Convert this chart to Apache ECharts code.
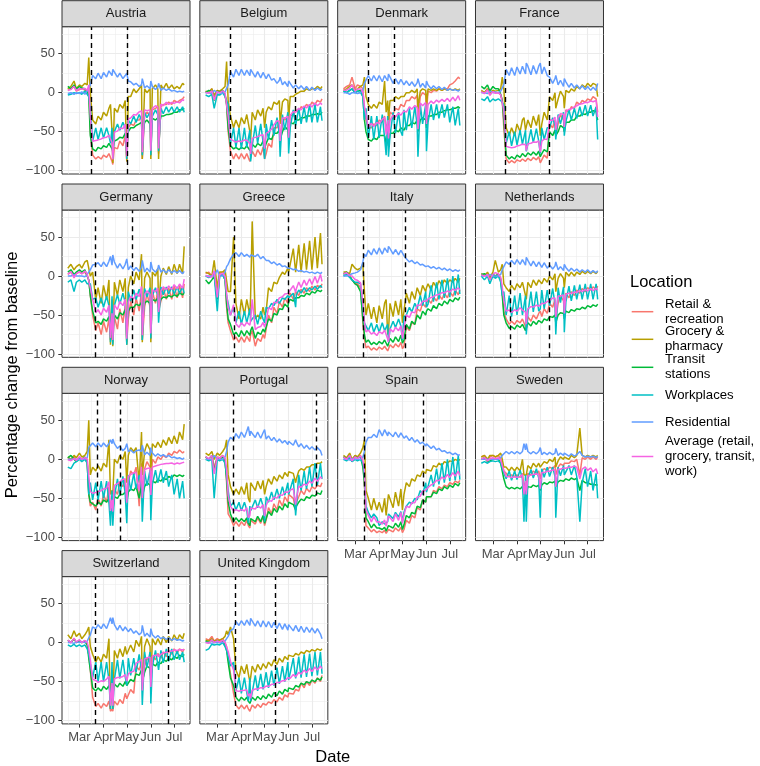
<!DOCTYPE html>
<html><head><meta charset="utf-8">
<script src="https://cdn.jsdelivr.net/npm/echarts@6/dist/echarts.min.js"></script>
<style>html,body{margin:0;padding:0;background:#fff}#c{width:760px;height:766px}</style>
</head><body><div id="c"></div>
<script>
const dates = ['2020-02-15','2020-02-19','2020-02-23','2020-02-26','2020-03-01','2020-03-04','2020-03-08','2020-03-11','2020-03-13','2020-03-15','2020-03-18','2020-03-22','2020-03-25','2020-03-29','2020-04-01','2020-04-05','2020-04-08','2020-04-10','2020-04-12','2020-04-13','2020-04-15','2020-04-19','2020-04-22','2020-04-26','2020-04-29','2020-05-01','2020-05-03','2020-05-06','2020-05-10','2020-05-13','2020-05-17','2020-05-20','2020-05-21','2020-05-24','2020-05-27','2020-05-31','2020-06-01','2020-06-03','2020-06-07','2020-06-10','2020-06-11','2020-06-14','2020-06-17','2020-06-21','2020-06-24','2020-06-28','2020-07-01','2020-07-05','2020-07-08','2020-07-12','2020-07-14'];
const countries = ['Austria','Belgium','Denmark','France','Germany','Greece','Italy','Netherlands','Norway','Portugal','Spain','Sweden','Switzerland','United Kingdom'];
const seriesNames = ['Retail & recreation','Grocery & pharmacy','Transit stations','Workplaces','Residential','Average (retail, grocery, transit, work)'];
const legendLabels = ['Retail &\nrecreation','Grocery &\npharmacy','Transit\nstations','Workplaces','Residential','Average (retail,\ngrocery, transit,\nwork)'];
const colors = ['#F8766D','#B79F00','#00BA38','#00BFC4','#619CFF','#F564E3'];
const lockdownStart = ['2020-03-16','2020-03-18','2020-03-18','2020-03-17','2020-03-22','2020-03-23','2020-03-11','2020-03-23','2020-03-24','2020-03-22','2020-03-13',null,'2020-03-21','2020-03-24'];
const lockdownEnd   = ['2020-05-02','2020-06-09','2020-04-20','2020-05-12','2020-05-08','2020-06-01','2020-05-05','2020-05-12','2020-04-22','2020-07-07','2020-05-28',null,'2020-06-24','2020-05-15'];
const yTicks = [-100,-50,0,50];
const yMinor = [-75,-25,25,75];
const xMonths = ['2020-03-01','2020-04-01','2020-05-01','2020-06-01','2020-07-01'];

const austriaRetail = [3,5,8,2,4,6,3,2,5,-50,-80,-85,-82,-85,-80,-83,-78,-80,-88,-92,-70,-72,-62,-68,-55,-88,-45,-40,-42,-35,-35,-30,-85,-30,-25,-28,-80,-22,-20,-18,-78,-18,-15,-15,-12,-15,-10,-12,-10,-8,-5];
const austriaGrocery = [5,8,15,5,10,8,12,10,45,0,-35,-40,-30,-35,-25,-30,-20,-15,-50,-90,-20,-25,-15,-20,-10,-88,-5,-5,5,0,5,10,-85,5,0,5,-85,5,10,5,-85,10,5,12,5,10,5,8,5,12,10];
const austriaTransit = [8,5,10,5,8,6,5,2,-5,-55,-72,-75,-70,-72,-68,-70,-65,-67,-72,-75,-62,-60,-57,-58,-52,-65,-50,-45,-45,-42,-40,-38,-55,-38,-35,-40,-52,-33,-35,-32,-48,-30,-30,-28,-28,-27,-25,-25,-22,-22,-20];
const austriaWork = [-3,-2,0,-1,0,-2,2,-2,-5,-20,-62,-45,-60,-45,-58,-45,-55,-65,-45,-85,-50,-40,-48,-38,-45,-85,-35,-40,-30,-38,-28,-35,-80,-25,-32,-25,-80,-30,-22,-28,-75,-20,-27,-18,-25,-18,-25,-18,-25,-18,-25];
const austriaResid = [-1,0,-2,0,-1,1,-2,2,3,10,22,18,25,18,26,20,28,27,22,30,28,20,25,18,22,25,15,14,10,12,8,10,18,6,9,5,15,8,4,7,12,3,6,3,5,2,3,1,2,1,2];

const belgiumRetail = [2,0,5,-5,3,0,2,-3,-15,-50,-75,-85,-78,-85,-78,-85,-78,-80,-88,-90,-75,-82,-73,-80,-70,-85,-78,-65,-70,-45,-45,-38,-65,-40,-32,-38,-60,-28,-30,-22,-22,-25,-18,-20,-15,-18,-12,-15,-10,-12,-8];
const belgiumGrocery = [2,0,5,-3,3,2,5,8,40,-10,-30,-45,-35,-45,-32,-40,-28,-30,-50,-60,-25,-35,-22,-30,-20,-45,-25,-18,-22,-12,-15,-10,-40,-12,-8,-10,-35,-5,-5,-2,-2,0,2,2,5,3,5,5,8,5,8];
const belgiumTransit = [0,3,2,-10,2,0,3,-2,-15,-45,-68,-72,-70,-73,-70,-72,-68,-70,-74,-76,-66,-70,-65,-68,-62,-72,-65,-58,-60,-52,-52,-48,-60,-50,-43,-48,-58,-38,-40,-35,-35,-35,-32,-32,-30,-30,-28,-28,-27,-28,-25];
const belgiumWork = [-3,-5,-2,-20,-2,-3,0,-5,-10,-15,-65,-45,-70,-45,-72,-45,-70,-72,-48,-88,-68,-42,-65,-40,-63,-85,-40,-60,-35,-55,-32,-52,-82,-28,-48,-25,-78,-45,-22,-42,-42,-20,-40,-18,-38,-15,-38,-15,-38,-18,-36];
const belgiumResid = [0,0,-1,3,0,0,-1,1,2,10,27,20,30,22,30,22,29,29,22,30,28,20,27,19,26,27,18,24,16,18,12,16,20,10,14,8,15,12,6,10,10,5,9,4,8,3,7,3,6,3,5];

const denmarkRetail = [5,8,10,20,5,10,8,5,-20,-35,-45,-45,-40,-42,-35,-38,-30,-45,-40,-50,-25,-28,-20,-22,-15,-15,-18,-10,-10,-5,-8,-3,-35,-5,0,-3,-25,2,0,3,3,2,5,3,5,5,10,12,15,20,18];
const denmarkGrocery = [3,5,8,10,3,5,8,10,20,-5,-15,-20,-15,-20,-12,-15,15,-25,-10,-35,-10,-10,-5,-8,-5,-3,-5,0,0,3,0,5,-20,2,5,3,-15,5,3,5,5,3,5,3,5,3,5,3,5,3,5];
const denmarkTransit = [2,0,3,5,0,2,3,-5,-35,-50,-60,-62,-58,-60,-55,-55,-55,-65,-62,-68,-52,-52,-48,-50,-45,-47,-48,-42,-42,-38,-40,-35,-50,-35,-32,-35,-45,-30,-30,-28,-27,-28,-25,-25,-23,-22,-22,-20,-20,-18,-20];
const denmarkWork = [2,0,3,5,0,2,0,-5,-35,-20,-58,-30,-60,-30,-58,-28,-58,-80,-30,-82,-55,-25,-52,-25,-50,-55,-22,-48,-20,-45,-18,-42,-82,-15,-40,-15,-75,-38,-15,-35,-35,-15,-33,-15,-32,-15,-38,-18,-42,-20,-42];
const denmarkResid = [0,0,-2,0,0,-1,0,3,12,12,22,15,22,15,22,14,22,24,15,24,20,12,18,11,17,16,10,15,9,14,8,13,18,7,12,6,15,10,5,9,9,5,8,4,7,3,5,3,4,2,4];

const franceRetail = [2,0,5,-3,3,0,0,-3,-10,-45,-85,-90,-87,-90,-86,-88,-85,-84,-88,-90,-84,-87,-83,-86,-82,-90,-86,-80,-84,-40,-45,-35,-55,-40,-28,-35,-50,-22,-25,-18,-18,-20,-12,-15,-10,-12,-8,-10,-5,-8,-25];
const franceGrocery = [3,0,5,0,3,2,3,5,20,5,-45,-55,-45,-55,-40,-50,-35,-32,-48,-50,-35,-45,-30,-42,-28,-55,-40,-25,-35,-5,-10,0,-20,-8,2,-5,-20,3,0,5,5,2,8,5,10,7,12,8,12,10,-5];
const franceTransit = [8,5,10,2,8,5,5,-2,-10,-35,-80,-85,-82,-85,-80,-83,-78,-78,-82,-82,-77,-80,-76,-80,-75,-82,-78,-73,-76,-50,-55,-48,-55,-50,-42,-45,-50,-38,-38,-35,-34,-35,-30,-30,-27,-28,-25,-25,-23,-24,-35];
const franceWork = [-8,-10,-5,-12,-8,-10,-8,-10,-12,-15,-65,-50,-68,-50,-67,-48,-66,-65,-48,-75,-66,-47,-64,-46,-62,-78,-45,-60,-45,-45,-32,-42,-60,-28,-40,-25,-55,-37,-22,-35,-35,-20,-33,-18,-30,-16,-30,-16,-30,-18,-60];
const franceResid = [0,0,-1,2,0,1,0,2,3,10,30,22,32,22,33,24,34,33,24,38,34,23,35,24,34,38,24,33,22,20,12,18,22,10,16,8,18,14,7,12,12,6,10,5,9,4,8,3,7,3,12];

const germanyRetail = [2,5,0,3,5,3,5,0,-5,-25,-50,-70,-60,-75,-58,-72,-55,-82,-75,-85,-52,-68,-42,-60,-38,-85,-55,-32,-50,-28,-45,-20,-82,-40,-22,-40,-80,-20,-35,-18,-45,-32,-15,-30,-15,-30,-12,-28,-12,-28,-10];
const germanyGrocery = [10,15,8,12,15,10,18,20,22,0,5,-30,-15,-35,-12,-30,-5,-88,-30,-90,-8,-25,-5,-20,-3,-88,-15,0,-10,5,-5,28,-85,-3,5,-3,-85,5,0,10,-40,0,10,2,12,2,15,3,15,3,38];
const germanyTransit = [5,8,2,5,8,5,8,0,-5,-25,-45,-60,-58,-62,-55,-58,-52,-62,-60,-65,-50,-55,-47,-50,-43,-60,-45,-40,-40,-36,-38,-34,-55,-35,-32,-35,-50,-30,-32,-28,-40,-30,-27,-28,-25,-27,-24,-26,-22,-24,-22];
const germanyWork = [-8,-5,-20,-8,-5,-8,-5,-10,-10,-10,-30,-28,-40,-28,-40,-26,-38,-85,-26,-88,-38,-24,-36,-22,-34,-88,-20,-32,-18,-30,-17,-28,-82,-16,-27,-15,-80,-25,-15,-25,-60,-14,-24,-14,-23,-14,-23,-14,-22,-14,-22];
const germanyResid = [0,0,2,0,0,0,-1,2,3,8,14,15,17,12,18,12,19,25,14,27,18,10,16,9,15,22,8,13,7,11,6,11,20,5,10,5,18,9,5,9,14,5,8,4,8,4,7,4,7,3,6];

const greeceRetail = [3,5,0,5,-20,3,5,0,-40,-60,-70,-82,-78,-85,-78,-85,-77,-76,-84,-75,-70,-90,-80,-84,-75,-80,-78,-50,-60,-40,-48,-33,-32,-40,-28,-35,-25,-22,-30,-20,-18,-25,-17,-22,-15,-20,-13,-18,-12,-15,-10];
const greeceGrocery = [5,3,0,20,-15,5,5,8,10,-20,-20,50,-35,-55,-30,-50,-30,-28,-50,-25,70,-55,-50,-55,-40,-50,-45,-15,-20,-8,-10,-2,0,5,2,10,5,5,35,5,5,40,5,42,8,45,8,50,10,55,15];
const greeceTransit = [-5,-10,-5,0,-30,0,2,-5,-35,-55,-62,-75,-72,-78,-70,-77,-70,-70,-76,-70,-65,-80,-72,-75,-68,-72,-70,-55,-58,-48,-50,-42,-40,-43,-36,-40,-33,-30,-32,-28,-27,-28,-25,-26,-22,-24,-20,-22,-18,-20,-18];
const greeceWork = [0,-2,0,2,-45,0,2,-5,-25,-25,-50,-40,-60,-45,-62,-45,-60,-60,-42,-58,-55,-50,-62,-45,-55,-60,-40,-42,-35,-38,-30,-35,-34,-28,-30,-25,-28,-26,-22,-40,-24,-18,-22,-15,-20,-15,-18,-13,-17,-12,-15];
const greeceResid = [0,0,0,0,8,0,0,5,12,15,22,28,30,25,30,25,28,28,24,27,25,25,28,22,25,26,20,20,16,18,14,16,16,12,13,10,11,10,8,9,8,6,7,5,6,4,5,3,5,3,5];

const italyRetail = [3,5,0,-5,-10,-10,-15,-60,-80,-92,-90,-95,-92,-95,-91,-94,-90,-90,-96,-95,-88,-92,-87,-91,-85,-93,-90,-65,-70,-60,-62,-42,-40,-45,-35,-40,-35,-30,-35,-27,-26,-32,-24,-30,-22,-28,-20,-26,-18,-24,-18];
const italyGrocery = [5,5,3,15,10,8,10,15,-20,-50,-35,-55,-40,-60,-38,-55,-35,-30,-75,-70,-35,-52,-32,-50,-30,-60,-45,-22,-35,-20,-30,-15,-14,-25,-12,-20,-15,-10,-18,-8,-8,-15,-6,-12,-5,-10,-5,-8,-3,-8,-3];
const italyTransit = [2,5,0,-5,-10,-12,-20,-55,-75,-85,-82,-88,-85,-88,-84,-87,-82,-82,-90,-88,-80,-85,-78,-84,-76,-86,-82,-62,-68,-58,-62,-50,-49,-55,-45,-50,-45,-42,-45,-38,-37,-42,-35,-38,-32,-36,-30,-33,-28,-31,-27];
const italyWork = [0,2,-2,-5,-8,-8,-10,-40,-60,-60,-70,-60,-72,-62,-72,-60,-70,-70,-62,-85,-68,-58,-66,-55,-64,-82,-52,-50,-40,-46,-35,-42,-42,-25,-38,-20,-40,-36,-12,-33,-32,-8,-30,-5,-28,-3,-27,0,-25,2,-23];
const italyResid = [0,0,1,3,4,5,8,18,28,25,33,27,35,28,36,28,36,35,30,38,35,28,34,27,33,35,26,22,18,20,16,18,17,14,15,12,14,13,10,12,11,9,11,8,10,7,9,6,8,6,8];

const netherlandsRetail = [2,0,3,-3,2,0,3,-3,-20,-45,-55,-62,-58,-62,-57,-60,-55,-55,-65,-70,-52,-58,-50,-55,-48,-45,-52,-42,-48,-35,-40,-30,-55,-35,-25,-32,-50,-22,-28,-20,-19,-25,-18,-22,-16,-20,-15,-18,-14,-17,-13];
const netherlandsGrocery = [3,0,5,-2,5,20,5,8,15,-10,-15,-20,-12,-18,-10,-15,-8,-8,-25,-30,-8,-15,-5,-12,-5,-3,-10,-3,-8,0,-5,3,-20,-3,3,-3,-15,5,0,5,5,0,5,2,6,3,6,3,6,3,6];
const netherlandsTransit = [2,3,0,-5,2,0,2,-5,-25,-50,-60,-67,-65,-68,-63,-66,-62,-62,-70,-72,-60,-64,-58,-62,-57,-55,-60,-55,-57,-52,-53,-50,-60,-50,-47,-48,-55,-45,-47,-43,-42,-45,-42,-43,-40,-42,-38,-40,-37,-39,-36];
const netherlandsWork = [0,-5,0,-10,0,-3,0,-8,-25,-20,-50,-25,-52,-25,-50,-22,-50,-52,-25,-75,-48,-20,-46,-20,-45,-42,-18,-42,-18,-38,-16,-36,-75,-15,-34,-14,-72,-33,-13,-32,-31,-12,-30,-11,-30,-10,-30,-10,-30,-10,-30];
const netherlandsResid = [0,0,0,2,0,0,0,2,8,12,18,15,20,15,21,15,21,20,14,24,20,13,19,12,18,17,11,17,10,14,9,13,18,8,12,7,15,11,6,10,10,6,9,5,8,5,8,4,7,4,7];

const norwayRetail = [2,0,3,-2,3,0,2,0,-45,-60,-55,-65,-50,-60,-45,-55,-35,-70,-65,-72,-38,-45,-30,-35,-25,-55,-30,-15,-20,-10,-60,-5,-50,-12,-3,-10,-45,0,-5,3,3,0,5,2,8,5,10,8,12,8,10];
const norwayGrocery = [3,0,5,2,8,3,5,10,50,-20,-10,-15,-8,-15,-5,-10,25,-45,-40,-45,0,-5,5,0,10,-30,5,15,10,15,-30,35,-20,10,20,12,-15,20,15,22,22,15,25,18,28,20,30,20,35,25,45];
const norwayTransit = [2,5,0,-3,2,0,3,-5,-45,-55,-57,-60,-55,-58,-52,-55,-50,-65,-62,-66,-48,-50,-45,-45,-42,-55,-42,-38,-40,-35,-50,-32,-48,-35,-30,-33,-45,-28,-30,-26,-26,-28,-24,-26,-22,-24,-20,-22,-20,-22,-20];
const norwayWork = [-10,-12,-5,-3,0,-3,0,-5,-45,-30,-52,-30,-52,-28,-50,-28,-55,-85,-40,-85,-48,-25,-46,-22,-44,-82,-20,-40,-18,-38,-20,-36,-80,-15,-34,-14,-78,-32,-14,-30,-30,-13,-30,-15,-35,-20,-45,-25,-50,-28,-50];
const norwayResid = [0,0,0,0,0,0,0,2,15,15,21,16,21,16,21,16,20,25,20,26,20,14,17,11,14,20,10,12,8,11,12,10,18,6,9,5,15,8,4,7,7,4,6,3,5,2,3,1,2,0,2];

const portugalRetail = [3,0,5,-10,3,2,5,0,-30,-70,-75,-85,-80,-86,-80,-85,-78,-85,-88,-78,-77,-83,-75,-82,-73,-85,-78,-62,-70,-57,-65,-52,-51,-60,-48,-55,-45,-44,-50,-65,-55,-48,-40,-45,-37,-42,-35,-38,-33,-35,-30];
const portugalGrocery = [8,5,10,0,8,5,10,15,25,-20,-35,-45,-38,-45,-35,-45,-30,-50,-55,-30,-30,-40,-28,-38,-27,-45,-35,-25,-32,-22,-28,-20,-20,-25,-17,-22,-16,-15,-18,-30,-25,-15,-12,-14,-10,-10,-7,-7,-5,-5,-3];
const portugalTransit = [3,0,5,-15,2,0,3,-3,-25,-55,-70,-80,-75,-80,-76,-80,-75,-82,-85,-76,-75,-80,-73,-80,-72,-82,-76,-67,-72,-63,-68,-60,-60,-65,-57,-62,-55,-55,-58,-65,-60,-55,-51,-53,-48,-50,-46,-47,-43,-45,-40];
const portugalWork = [0,-2,0,-50,0,-2,0,-5,-20,-40,-60,-55,-65,-55,-66,-55,-65,-82,-60,-66,-64,-52,-62,-50,-60,-80,-48,-55,-42,-52,-38,-50,-49,-35,-46,-30,-45,-44,-25,-72,-60,-20,-40,-15,-38,-10,-35,-5,-33,-5,-25];
const portugalResid = [0,0,-1,5,0,0,0,3,10,22,28,25,33,27,35,28,36,42,30,36,36,28,35,27,34,38,26,30,24,28,22,26,26,21,24,19,23,23,18,25,22,16,20,14,18,13,16,12,15,11,5];

const spainRetail = [3,0,5,-3,5,2,5,-5,-30,-85,-88,-93,-90,-94,-92,-94,-91,-95,-95,-90,-89,-93,-88,-92,-87,-94,-90,-78,-82,-72,-75,-62,-61,-65,-52,-55,-48,-46,-48,-40,-39,-42,-35,-38,-33,-35,-30,-32,-28,-30,-27];
const spainGrocery = [5,2,8,0,5,3,8,15,25,-40,-50,-65,-50,-65,-55,-68,-50,-72,-70,-45,-45,-62,-42,-60,-38,-65,-45,-30,-35,-25,-28,-20,-20,-22,-15,-18,-13,-12,-15,-8,-8,-10,-5,-8,-3,-5,-2,-3,0,-2,0];
const spainTransit = [3,0,5,-3,3,2,3,-10,-30,-75,-80,-88,-83,-88,-88,-90,-87,-92,-91,-85,-84,-88,-82,-87,-80,-90,-84,-72,-75,-68,-70,-60,-60,-62,-52,-55,-48,-46,-48,-42,-41,-44,-38,-40,-35,-38,-33,-36,-31,-34,-30];
const spainWork = [0,-2,2,-3,0,-2,0,-5,-20,-60,-68,-75,-70,-75,-85,-80,-83,-85,-80,-70,-70,-76,-68,-74,-67,-80,-68,-60,-55,-57,-50,-52,-51,-40,-45,-30,-42,-40,-20,-35,-35,-12,-32,-5,-30,0,-28,3,-27,5,-26];
const spainResid = [0,0,-1,1,0,0,0,3,10,22,28,28,32,28,38,30,38,36,30,35,36,29,35,28,34,34,27,30,24,28,22,25,25,20,22,17,20,19,14,17,16,12,14,10,11,8,9,6,8,5,6];

const swedenRetail = [3,5,0,3,5,3,5,0,-5,-15,-18,-22,-20,-22,-20,-23,-18,-35,-30,-35,-18,-20,-15,-18,-15,-25,-15,-12,-14,-10,-12,-8,-20,-10,-6,-8,-5,-4,-5,-2,-2,-3,0,-20,2,0,3,0,3,0,3];
const swedenGrocery = [3,5,0,5,5,3,5,8,0,-10,-10,-15,-10,-15,-10,-15,0,-20,-20,-20,-8,-12,-5,-10,-5,-10,-8,-3,-5,0,-3,3,-10,-2,3,0,3,3,0,5,5,2,5,40,5,3,5,3,5,3,5];
const swedenTransit = [0,2,-3,-2,0,0,0,-5,-15,-25,-35,-38,-36,-38,-36,-38,-35,-45,-40,-45,-35,-36,-33,-35,-33,-40,-33,-30,-32,-29,-30,-28,-35,-29,-27,-28,-26,-25,-27,-24,-24,-26,-24,-40,-27,-30,-30,-32,-32,-33,-33];
const swedenWork = [-5,-3,-5,-3,-2,-3,-2,-5,-12,-10,-25,-15,-27,-15,-26,-14,-25,-80,-20,-80,-25,-13,-24,-12,-24,-75,-12,-23,-10,-22,-10,-22,-75,-10,-21,-8,-20,-20,-8,-20,-20,-8,-22,-80,-30,-12,-35,-15,-40,-18,-50];
const swedenResid = [0,0,0,0,0,0,0,2,5,6,10,7,10,7,10,7,10,20,12,20,10,7,10,7,10,15,6,9,6,9,6,8,14,5,8,5,8,7,4,7,7,4,6,10,5,3,4,3,4,2,4];

const switzerlandRetail = [3,0,5,0,3,0,2,-3,-15,-35,-70,-82,-78,-84,-78,-82,-75,-88,-85,-88,-75,-80,-73,-78,-65,-72,-72,-60,-65,-30,-35,-25,-55,-30,-20,-25,-50,-17,-22,-14,-15,-20,-12,-18,-10,-15,-8,-13,-8,-12,-8];
const switzerlandGrocery = [10,5,15,8,12,5,10,15,20,-5,-15,-25,-18,-25,-15,-20,5,-85,-35,-85,-10,-20,-8,-18,-5,-15,-15,-3,-12,3,-5,8,-60,-5,5,-5,-55,5,-3,5,3,-3,8,0,8,2,10,3,10,5,12];
const switzerlandTransit = [3,0,5,0,3,0,2,-3,-20,-35,-58,-62,-58,-62,-56,-60,-55,-66,-62,-66,-53,-57,-52,-56,-50,-55,-53,-47,-50,-40,-42,-35,-50,-38,-30,-33,-45,-27,-30,-25,-26,-27,-22,-24,-20,-22,-18,-20,-16,-18,-15];
const switzerlandWork = [-3,-5,-2,-5,-3,-5,-3,-8,-15,-15,-45,-25,-50,-25,-50,-25,-48,-85,-25,-85,-47,-22,-46,-22,-44,-55,-20,-42,-20,-38,-15,-35,-80,-12,-32,-12,-78,-30,-10,-28,-35,-10,-26,-8,-24,-8,-22,-10,-22,-12,-25];
const switzerlandResid = [0,0,-1,1,0,1,0,2,6,10,20,18,23,18,24,18,26,32,24,32,23,16,22,15,20,22,14,18,12,15,10,13,22,8,12,7,18,10,6,9,10,5,7,4,6,3,5,3,4,2,3];

const ukRetail = [5,3,8,2,5,3,5,0,-5,-20,-40,-65,-80,-85,-80,-85,-80,-85,-88,-88,-80,-84,-79,-83,-78,-79,-80,-76,-78,-73,-76,-70,-70,-74,-67,-70,-65,-64,-66,-60,-59,-62,-52,-58,-50,-55,-48,-52,-45,-50,-42];
const ukGrocery = [3,2,5,2,3,3,5,8,15,10,20,5,-35,-45,-30,-40,-28,-40,-50,-45,-30,-38,-28,-35,-27,-28,-33,-25,-30,-22,-28,-20,-20,-25,-18,-22,-16,-15,-18,-14,-14,-16,-12,-14,-10,-12,-9,-11,-8,-10,-8];
const ukTransit = [2,0,3,0,2,0,2,-3,-10,-25,-45,-55,-70,-75,-70,-74,-70,-75,-78,-78,-70,-74,-69,-73,-68,-69,-72,-66,-70,-64,-68,-62,-62,-66,-60,-63,-58,-57,-60,-55,-55,-57,-52,-54,-50,-52,-48,-50,-46,-48,-44];
const ukWork = [-10,-8,-2,-3,-2,-3,0,-5,-10,-10,-30,-25,-62,-45,-65,-45,-64,-75,-45,-75,-64,-42,-62,-40,-60,-60,-38,-58,-36,-55,-32,-53,-52,-30,-50,-25,-48,-47,-20,-46,-46,-18,-45,-15,-44,-14,-43,-12,-42,-12,-40];
const ukResid = [0,0,-1,0,0,0,0,2,5,8,15,18,27,22,28,22,29,30,22,31,29,21,28,20,28,28,20,27,19,26,18,25,25,17,24,16,23,23,15,22,22,14,21,13,20,13,19,12,18,11,5];

const panelData = [
  [austriaRetail, austriaGrocery, austriaTransit, austriaWork, austriaResid],
  [belgiumRetail, belgiumGrocery, belgiumTransit, belgiumWork, belgiumResid],
  [denmarkRetail, denmarkGrocery, denmarkTransit, denmarkWork, denmarkResid],
  [franceRetail, franceGrocery, franceTransit, franceWork, franceResid],
  [germanyRetail, germanyGrocery, germanyTransit, germanyWork, germanyResid],
  [greeceRetail, greeceGrocery, greeceTransit, greeceWork, greeceResid],
  [italyRetail, italyGrocery, italyTransit, italyWork, italyResid],
  [netherlandsRetail, netherlandsGrocery, netherlandsTransit, netherlandsWork, netherlandsResid],
  [norwayRetail, norwayGrocery, norwayTransit, norwayWork, norwayResid],
  [portugalRetail, portugalGrocery, portugalTransit, portugalWork, portugalResid],
  [spainRetail, spainGrocery, spainTransit, spainWork, spainResid],
  [swedenRetail, swedenGrocery, swedenTransit, swedenWork, swedenResid],
  [switzerlandRetail, switzerlandGrocery, switzerlandTransit, switzerlandWork, switzerlandResid],
  [ukRetail, ukGrocery, ukTransit, ukWork, ukResid]
];

function ts(s){ const p = s.split('-').map(Number); return Date.UTC(p[0], p[1]-1, p[2]); }
const X_MIN = Date.UTC(2020,1,7,12);
const X_MAX = Date.UTC(2020,6,21,12);
const majorX = xMonths.map(ts);
const minorX = [Date.UTC(2020,1,15), Date.UTC(2020,2,16,12), Date.UTC(2020,3,16), Date.UTC(2020,4,16,12), Date.UTC(2020,5,16), Date.UTC(2020,6,16,12)];
const MON = ['Jan','Feb','Mar','Apr','May','Jun','Jul','Aug','Sep','Oct','Nov','Dec'];
const FONT = "'Liberation Sans', Arial, Helvetica, sans-serif";
const times = dates.map(ts);

const grids = [], xAxes = [], yAxes = [], series = [], graphics = [];
const PW = 128, PH = 147.3, STRIP = 26;
countries.forEach((name, i) => {
  const col = i % 4, row = Math.floor(i / 4);
  const left = 62 + col * 137.83, top = 26.7 + row * 183.3;
  const showX = row === 3 || (row === 2 && col >= 2);
  const showY = col === 0;
  grids.push({left, top, width: PW, height: PH, show: true, backgroundColor: '#fff', borderColor: '#333333', borderWidth: 1, containLabel: false, outerBoundsMode: 'none'});
  xAxes.push({gridIndex: i, type: 'value', min: X_MIN, max: X_MAX, position: 'bottom', scale: true,
    axisLine: {show: false, onZero: false},
    axisTick: {show: showX, length: 3.7, lineStyle: {color: '#333333', width: 1}, customValues: majorX},
    axisLabel: {show: showX, customValues: majorX, margin: 7, color: '#4D4D4D', fontSize: 13, fontFamily: FONT, formatter: v => MON[new Date(v).getUTCMonth()], hideOverlap: false, showMinLabel: true, showMaxLabel: true},
    splitLine: {show: true, lineStyle: {color: '#EBEBEB', width: 1.1}}
  });
  xAxes.push({gridIndex: i, type: 'value', min: X_MIN, max: X_MAX, position: 'top', scale: true,
    axisLine: {show: false, onZero: false}, axisTick: {show: false, customValues: minorX}, axisLabel: {show: false, customValues: minorX},
    splitLine: {show: true, lineStyle: {color: '#EBEBEB', width: 0.55}}
  });
  yAxes.push({gridIndex: i, type: 'value', min: -104.2, max: 84.6, position: 'left',
    axisLine: {show: false, onZero: false},
    axisTick: {show: showY, length: 3.7, lineStyle: {color: '#333333', width: 1}, customValues: yTicks},
    axisLabel: {show: showY, customValues: yTicks, margin: 7, color: '#4D4D4D', fontSize: 13, fontFamily: FONT, formatter: v => String(v).replace('-', '\u2212')},
    splitLine: {show: true, lineStyle: {color: '#EBEBEB', width: 1.1}}
  });
  yAxes.push({gridIndex: i, type: 'value', min: -104.2, max: 84.6, position: 'right',
    axisLine: {show: false, onZero: false}, axisTick: {show: false, customValues: yMinor}, axisLabel: {show: false, customValues: yMinor},
    splitLine: {show: true, lineStyle: {color: '#EBEBEB', width: 0.55}}
  });
  const d = panelData[i];
  const avg = d[0].map((_, k) => (d[0][k] + d[1][k] + d[2][k] + d[3][k]) / 4);
  const all = [d[0], d[1], d[2], d[3], d[4], avg];
  all.forEach((vals, s) => {
    const ser = {
      type: 'line', name: seriesNames[s], xAxisIndex: 2 * i, yAxisIndex: 2 * i,
      data: times.map((t, k) => [t, vals[k]]),
      showSymbol: false, symbol: 'none', silent: true, animation: false,
      lineStyle: {color: colors[s], width: 1.5}, itemStyle: {color: colors[s]}
    };
    if (s === 5 && lockdownStart[i]) {
      ser.markLine = {silent: true, symbol: ['none', 'none'], animation: false, label: {show: false},
        lineStyle: {color: '#000', type: [5, 4], width: 1.4},
        data: [{xAxis: ts(lockdownStart[i])}, {xAxis: ts(lockdownEnd[i])}]};
    }
    series.push(ser);
  });
  graphics.push({type: 'rect', shape: {x: left, y: top - STRIP, width: PW, height: STRIP}, style: {fill: '#D9D9D9', stroke: '#333333', lineWidth: 1}, z: 10});
  graphics.push({type: 'text', x: left + PW / 2, y: top - STRIP / 2, style: {text: name, textAlign: 'center', textVerticalAlign: 'middle', font: '13px ' + FONT, fill: '#1A1A1A'}, z: 11});
});

graphics.push({type: 'text', x: 12, y: 375, rotation: Math.PI / 2, style: {text: 'Percentage change from baseline', textAlign: 'center', textVerticalAlign: 'middle', font: '16.5px ' + FONT, fill: '#000'}});
graphics.push({type: 'text', x: 332.8, y: 757, style: {text: 'Date', textAlign: 'center', textVerticalAlign: 'middle', font: '16.5px ' + FONT, fill: '#000'}});
graphics.push({type: 'text', x: 630, y: 282, style: {text: 'Location', textAlign: 'left', textVerticalAlign: 'middle', font: '16.5px ' + FONT, fill: '#000'}});
const keyY = [311.7, 339.3, 367.3, 395, 422, 456.5];
legendLabels.forEach((lab, s) => {
  graphics.push({type: 'line', shape: {x1: 631.7, y1: keyY[s], x2: 653.3, y2: keyY[s]}, style: {stroke: colors[s], lineWidth: 1.5}});
  graphics.push({type: 'text', x: 665, y: keyY[s], style: {text: lab, textAlign: 'left', textVerticalAlign: 'middle', font: '13.2px ' + FONT, lineHeight: 15, fill: '#000'}});
});

const chart = echarts.init(document.getElementById('c'), null, {renderer: 'canvas'});
chart.setOption({animation: false, grid: grids, xAxis: xAxes, yAxis: yAxes, series: series, graphic: {elements: graphics}});
</script>
</body></html>
